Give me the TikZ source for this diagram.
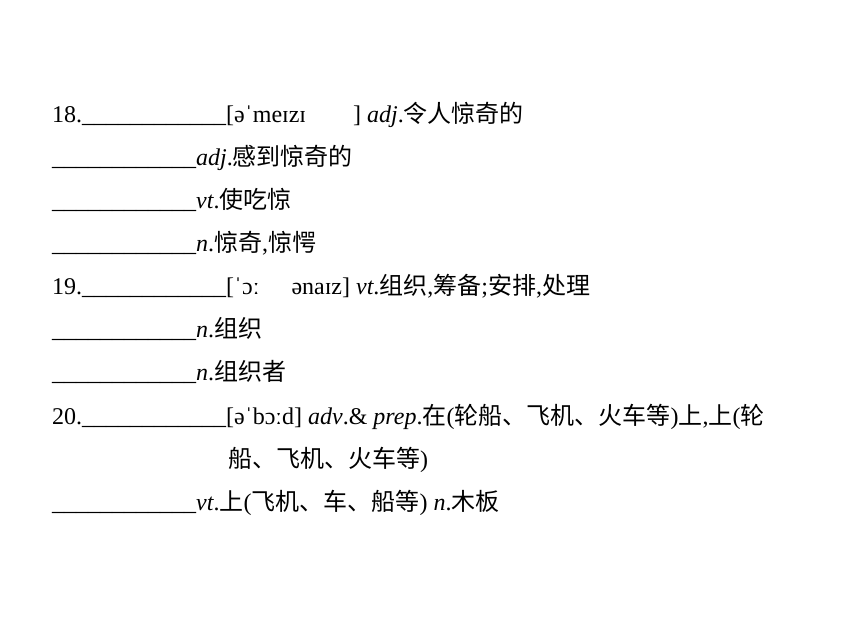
\documentclass[tikz,border=0pt]{standalone}
\usepackage{fontspec}
\setmainfont{Liberation Serif}
\newfontfamily\cjkfont{Noto Sans CJK SC}
\newcommand\zh[1]{{\cjkfont #1}}
\newcommand\blankline{\_\_\_\_\_\_\_\_\_\_\_\_}
\begin{document}
\begin{tikzpicture}[x=1pt,y=-1pt,
  txt/.style={anchor=base west, inner sep=0pt, font=\fontsize{24}{24}\selectfont}]
\useasboundingbox (0,0) rectangle (860,643);
\fill[white] (0,0) rectangle (860,643);
\node[txt] (l18)  at (52,122) {18.\blankline[əˈmeɪzɪ\hspace{47pt}] \textit{adj}.\zh{令人惊奇的}};
\node[txt] (l18a) at (52,165) {\blankline\textit{adj}.\zh{感到惊奇的}};
\node[txt] (l18b) at (52,208) {\blankline\textit{vt}.\zh{使吃惊}};
\node[txt] (l18c) at (52,251) {\blankline\textit{n}.\zh{惊奇},\zh{惊愕}};
\node[txt] (l19)  at (52,294) {19.\blankline[ˈɔː\hspace{32pt}ənaɪz] \textit{vt}.\zh{组织},\zh{筹备};\zh{安排},\zh{处理}};
\node[txt] (l19a) at (52,337) {\blankline\textit{n}.\zh{组织}};
\node[txt] (l19b) at (52,380) {\blankline\textit{n}.\zh{组织者}};
\node[txt] (l20)  at (52,424) {20.\blankline[əˈbɔːd] \textit{adv}.\& \textit{prep}.\zh{在}(\zh{轮船、飞机、火车等})\zh{上},\zh{上}(\zh{轮}};
\node[txt] (l20b) at (228,467) {\zh{船、飞机、火车等})};
\node[txt] (l20a) at (52,510) {\blankline\textit{vt}.\zh{上}(\zh{飞机、车、船等}) \textit{n}.\zh{木板}};
\end{tikzpicture}
\end{document}
